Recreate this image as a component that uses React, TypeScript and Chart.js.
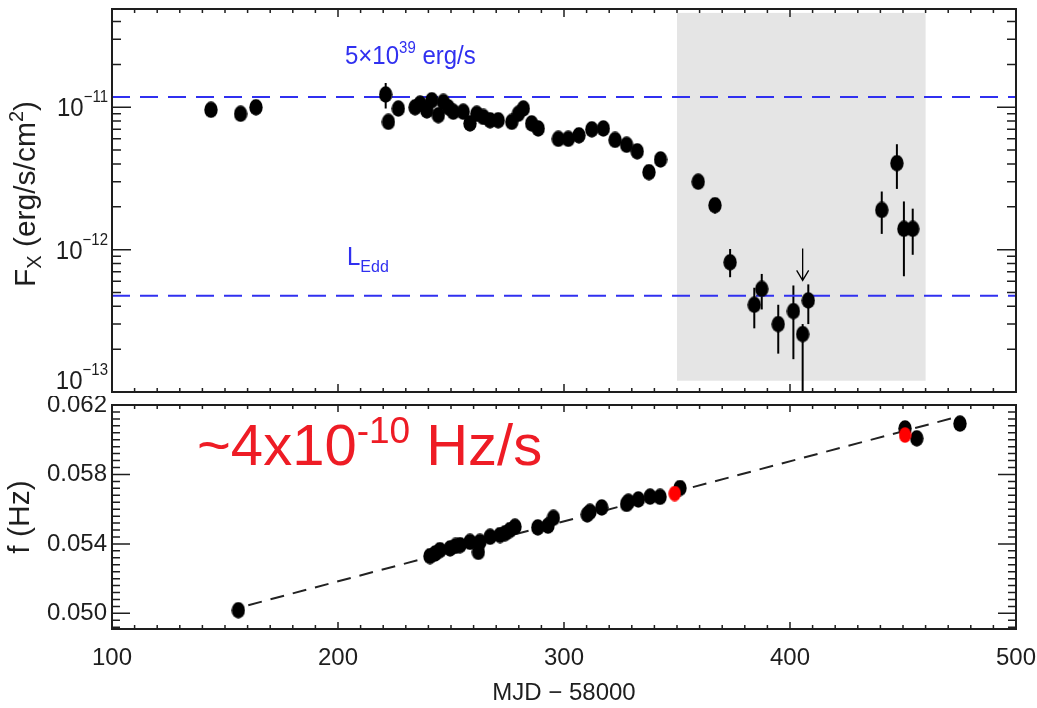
import React, { useEffect, useRef } from 'react';
import { Chart, registerables } from 'chart.js';

Chart.register(...registerables);

// ---------------- Top panel: X-ray flux (erg/s/cm^2) vs MJD-58000 ----------------
const fluxMJD = [
  143.8, 156.9, 163.7, 221.1, 222.3, 226.7, 234.1, 236.3, 239.3, 241.5, 244.4, 246.6,
  248.8, 251.0, 255.4, 258.4, 261.4, 264.3, 267.3, 270.9, 276.9, 279.8, 282.0, 285.7,
  288.6, 297.5, 301.9, 306.6, 312.3, 317.4, 322.6, 327.7, 332.4, 337.6, 342.7, 359.4,
  366.8, 373.5, 384.2, 387.5, 394.8, 401.5, 405.6, 408.1, 440.6, 447.3, 450.4, 454.3,
];
const fluxValues = [
  9.6e-12, 9.0e-12, 1.0e-11, 1.23e-11, 7.9e-12, 9.8e-12, 1.0e-11, 1.06e-11, 9.5e-12, 1.12e-11, 8.8e-12, 1.09e-11,
  1.0e-11, 9.3e-12, 9.3e-12, 7.7e-12, 9.0e-12, 8.55e-12, 8.1e-12, 8.1e-12, 7.9e-12, 9.0e-12, 9.8e-12, 7.7e-12,
  7.1e-12, 6.0e-12, 6.0e-12, 6.35e-12, 7.0e-12, 7.1e-12, 5.9e-12, 5.45e-12, 4.9e-12, 3.5e-12, 4.3e-12, 3.0e-12,
  2.05e-12, 8.15e-13, 4.1e-13, 5.3e-13, 3.0e-13, 3.7e-13, 2.55e-13, 4.4e-13, 1.9e-12, 4.05e-12, 1.4e-12, 1.4e-12,
];
// vertical error bars (only those visible outside the markers)
const errMJD = [221.1, 366.8, 373.5, 384.2, 387.5, 394.8, 401.5, 405.6, 408.1, 440.6, 447.3, 450.4, 454.3];
const errLow = [9.8e-12, 1.8e-12, 6.4e-13, 2.8e-13, 3.8e-13, 1.86e-13, 1.7e-13, 1e-14, 3.0e-13, 1.29e-12, 2.67e-12, 6.5e-13, 9.2e-13];
const errHigh = [1.48e-11, 2.2e-12, 1.01e-12, 5.4e-13, 6.75e-13, 4.1e-13, 5.6e-13, 3.0e-13, 5.7e-13, 2.56e-12, 5.5e-12, 2.18e-12, 1.94e-12];
// upper limit (arrow)
const upperLimitMJD = [405.6];
const upperLimitFlux = [1.02e-12];
// reference levels: 5x10^39 erg/s and L_Edd
const limitLevels = [1.18e-11, 4.74e-13];
// shaded interval
const shadedMJD = [350, 460];
const shadedFlux = [1.2e-13, 4.6e-11];
const fluxRange = [1e-13, 4.9e-11];
const fluxTickExponents = [-11, -12, -13];

// ---------------- Bottom panel: spin frequency (Hz) ----------------
const freqMJD = [
  155.9, 240.7, 243.0, 245.1, 249.6, 252.0, 254.0, 258.4, 262.1, 262.8, 267.3, 271.7,
  274.0, 276.1, 278.3, 288.4, 292.9, 295.3, 310.3, 311.5, 316.7, 327.7, 328.5, 332.9,
  338.1, 342.5, 351.3, 450.9, 456.1, 475.2,
];
const freqValues = [
  0.05018, 0.0533, 0.05345, 0.05364, 0.05374, 0.05388, 0.05393, 0.05412, 0.05354, 0.05412, 0.05441, 0.05451,
  0.05462, 0.0548, 0.05499, 0.05495, 0.05505, 0.0555, 0.0557, 0.05585, 0.0561, 0.0563, 0.05643, 0.05656,
  0.05672, 0.05671, 0.05722, 0.06065, 0.06008, 0.06093,
];
const freqRedMJD = [349.0, 450.9];
const freqRedValues = [0.0569, 0.06027];
const fitMJD = [160.3, 473.2];
const fitFreq = [0.05047, 0.06129];
const freqTicks = [0.05, 0.054, 0.058, 0.062];
const freqRange = [0.0491, 0.062];
const freqMinorStep = 0.0004;
const mjdTicks = [100, 200, 300, 400, 500];
const mjdRange = [100, 500];
const mjdMinorStep = 10;

// ---------------- styles ----------------
const FONT = "'Liberation Sans', Arial, Helvetica, sans-serif";
const INK = '#1e1e1e';
const BLUE = '#3030f0';
const RED = '#ee1c25';

type Seg = { t: string; size: number; dy?: number };

function drawRich(ctx: CanvasRenderingContext2D, segs: Seg[], x: number, y: number, color: string,
  align: 'left' | 'right' | 'center', rotate = 0, sy = 1) {
  ctx.save();
  ctx.translate(x, y);
  if (rotate) ctx.rotate(rotate);
  if (sy !== 1) ctx.scale(1, sy);
  ctx.fillStyle = color;
  ctx.textBaseline = 'alphabetic';
  ctx.textAlign = 'left';
  const widths = segs.map((s) => {
    ctx.font = `${s.size}px ${FONT}`;
    return ctx.measureText(s.t).width;
  });
  const total = widths.reduce((a, b) => a + b, 0);
  let cx = align === 'left' ? 0 : align === 'right' ? -total : -total / 2;
  segs.forEach((s, i) => {
    ctx.font = `${s.size}px ${FONT}`;
    ctx.fillText(s.t, cx, (s.dy || 0) / sy);
    cx += widths[i];
  });
  ctx.restore();
}

function makeEllipse(w: number, h: number, color: string) {
  const c = document.createElement('canvas');
  c.width = w;
  c.height = h;
  const g = c.getContext('2d')!;
  g.fillStyle = color;
  g.beginPath();
  g.ellipse(w / 2, h / 2, w / 2 - 0.3, h / 2 - 0.3, 0, 0, Math.PI * 2);
  g.fill();
  return c;
}

function drawFrame(chart: any, yTicks: { v: number; major: boolean }[], xLen: number[], yLen: number[]) {
  const { ctx, chartArea: a, scales } = chart;
  const x = scales.x;
  const y = scales.y;
  ctx.save();
  ctx.strokeStyle = INK;
  ctx.lineWidth = 1.5;
  ctx.beginPath();
  const n = Math.round((mjdRange[1] - mjdRange[0]) / mjdMinorStep);
  for (let i = 0; i <= n; i++) {
    const v = mjdRange[0] + i * mjdMinorStep;
    const major = mjdTicks.some((t) => Math.abs(t - v) < 1e-6);
    const px = x.getPixelForValue(v);
    const len = major ? xLen[0] : xLen[1];
    ctx.moveTo(px, a.bottom);
    ctx.lineTo(px, a.bottom - len);
    ctx.moveTo(px, a.top);
    ctx.lineTo(px, a.top + len);
  }
  for (const t of yTicks) {
    const py = y.getPixelForValue(t.v);
    const len = t.major ? yLen[0] : yLen[1];
    ctx.moveTo(a.left, py);
    ctx.lineTo(a.left + len, py);
    ctx.moveTo(a.right, py);
    ctx.lineTo(a.right - len, py);
  }
  ctx.stroke();
  ctx.lineWidth = 2;
  ctx.strokeRect(a.left, a.top, a.right - a.left, a.bottom - a.top);
  ctx.restore();
}

const topDecor = {
  id: 'topDecor',
  beforeDatasetsDraw(chart: any) {
    const { ctx, chartArea: a, scales } = chart;
    const x = scales.x;
    const y = scales.y;
    ctx.save();
    ctx.fillStyle = '#e5e5e5';
    const x0 = x.getPixelForValue(shadedMJD[0]);
    const x1 = x.getPixelForValue(shadedMJD[1]);
    const y0 = y.getPixelForValue(shadedFlux[1]);
    const y1 = y.getPixelForValue(shadedFlux[0]);
    ctx.fillRect(x0, y0, x1 - x0, y1 - y0);
    ctx.beginPath();
    ctx.rect(a.left, a.top, a.right - a.left, a.bottom - a.top);
    ctx.clip();
    ctx.strokeStyle = '#000';
    ctx.lineWidth = 2;
    errMJD.forEach((m, i) => {
      const px = x.getPixelForValue(m);
      ctx.beginPath();
      ctx.moveTo(px, y.getPixelForValue(errHigh[i]));
      ctx.lineTo(px, y.getPixelForValue(errLow[i]));
      ctx.stroke();
    });
    ctx.lineWidth = 1.3;
    upperLimitMJD.forEach((m, i) => {
      const px = x.getPixelForValue(m);
      const py = y.getPixelForValue(upperLimitFlux[i]);
      const tip = py + 32;
      ctx.beginPath();
      ctx.moveTo(px, py);
      ctx.lineTo(px, tip);
      ctx.moveTo(px - 6, tip - 10);
      ctx.lineTo(px, tip);
      ctx.lineTo(px + 6, tip - 10);
      ctx.stroke();
    });
    ctx.restore();
  },
  afterDatasetsDraw(chart: any) {
    const { ctx, chartArea: a, scales } = chart;
    const y = scales.y;
    const ticks: { v: number; major: boolean }[] = [];
    for (let e = -13; e <= -10; e++) {
      for (let k = 1; k <= 9; k++) {
        const v = k * Math.pow(10, e);
        if (v >= fluxRange[0] * 0.999 && v <= fluxRange[1]) ticks.push({ v, major: k === 1 });
      }
    }
    drawFrame(chart, ticks, [8, 4], [19, 9]);
    // y tick labels 10^-n
    fluxTickExponents.forEach((e) => {
      const py = y.getPixelForValue(Math.pow(10, e));
      const base = Math.min(py + 9, a.bottom - 3);
      drawRich(ctx, [{ t: '10', size: 24 }, { t: '\u2212' + Math.abs(e), size: 15, dy: -14 }], 108, base, INK, 'right', 0, 1.1);
    });
    // y title
    drawRich(ctx, [
      { t: 'F', size: 30 },
      { t: 'X', size: 20, dy: 6 },
      { t: ' (erg/s/cm', size: 30 },
      { t: '2', size: 20, dy: -12 },
      { t: ')', size: 30 },
    ], 35, 194, INK, 'center', -Math.PI / 2);
    // annotations
    drawRich(ctx, [{ t: '5\u00d710', size: 24 }, { t: '39', size: 15, dy: -11 }, { t: ' erg/s', size: 24 }], 345, 64, BLUE, 'left', 0, 1.08);
    drawRich(ctx, [{ t: 'L', size: 24 }, { t: 'Edd', size: 16, dy: 7 }], 347, 265, BLUE, 'left', 0, 1.08);
  },
};

const bottomDecor = {
  id: 'bottomDecor',
  afterDatasetsDraw(chart: any) {
    const ticks: { v: number; major: boolean }[] = [];
    const n = Math.round((freqRange[1] - 0.0492) / freqMinorStep);
    for (let i = 0; i <= n; i++) {
      const v = 0.0492 + i * freqMinorStep;
      ticks.push({ v, major: freqTicks.some((t) => Math.abs(t - v) < 1e-7) });
    }
    drawFrame(chart, ticks, [7, 4], [18, 8]);
    drawRich(chart.ctx, [{ t: '~4x10', size: 58 }, { t: '-10', size: 37, dy: -22 }, { t: ' Hz/s', size: 58 }], 197, 69, RED, 'left');
  },
};

function topConfig(): any {
  const dot = makeEllipse(14, 17, '#000');
  return {
    type: 'scatter',
    data: {
      datasets: [
        {
          data: fluxMJD.map((m, i) => ({ x: m, y: fluxValues[i] })),
          pointStyle: dot,
          pointRadius: 7,
          order: 0,
        },
        ...limitLevels.map((lv) => ({
          type: 'line',
          data: mjdRange.map((m) => ({ x: m, y: lv })),
          borderColor: BLUE,
          borderWidth: 2,
          borderDash: [18, 10],
          pointRadius: 0,
          fill: false,
          order: 1,
        })),
      ],
    },
    options: {
      responsive: false,
      animation: false,
      devicePixelRatio: 1,
      events: [],
      layout: { padding: { left: 112, right: 21, top: 9, bottom: 8 } },
      scales: {
        x: { type: 'linear', min: mjdRange[0], max: mjdRange[1], display: false },
        y: { type: 'logarithmic', min: fluxRange[0], max: fluxRange[1], display: false },
      },
      plugins: { legend: { display: false }, tooltip: { enabled: false } },
    },
    plugins: [topDecor],
  };
}

function bottomConfig(): any {
  const dot = makeEllipse(14, 17, '#000');
  const red = makeEllipse(13, 16, '#ff0000');
  return {
    type: 'scatter',
    data: {
      datasets: [
        {
          data: freqRedMJD.map((m, i) => ({ x: m, y: freqRedValues[i] })),
          pointStyle: red,
          pointRadius: 7,
          order: 0,
        },
        {
          data: freqMJD.map((m, i) => ({ x: m, y: freqValues[i] })),
          pointStyle: dot,
          pointRadius: 7,
          order: 1,
        },
        {
          type: 'line',
          data: fitMJD.map((m, i) => ({ x: m, y: fitFreq[i] })),
          borderColor: '#222',
          borderWidth: 2,
          borderDash: [14, 9],
          pointRadius: 0,
          fill: false,
          order: 2,
        },
      ],
    },
    options: {
      responsive: false,
      animation: false,
      devicePixelRatio: 1,
      events: [],
      layout: { padding: { left: 0, right: 21, top: 9, bottom: 0 } },
      scales: {
        x: {
          type: 'linear',
          min: mjdRange[0],
          max: mjdRange[1],
          grid: { display: false, drawTicks: false },
          border: { display: false },
          ticks: { font: { family: FONT, size: 24 }, color: INK, padding: 15, maxRotation: 0, autoSkip: false, callback: (v: any) => String(v) },
          title: { display: true, text: 'MJD \u2212 58000', font: { family: FONT, size: 24 }, color: INK, padding: { top: 4, bottom: 0 } },
          afterBuildTicks: (s: any) => { s.ticks = mjdTicks.map((v) => ({ value: v })); },
          afterFit: (s: any) => { s.height = 79; s.paddingLeft = 0; s.paddingRight = 0; },
        },
        y: {
          type: 'linear',
          min: freqRange[0],
          max: freqRange[1],
          grid: { display: false, drawTicks: false },
          border: { display: false },
          ticks: { font: { family: FONT, size: 24 }, color: INK, padding: 5, autoSkip: false, callback: (v: any) => Number(v).toFixed(3) },
          title: { display: true, text: 'f (Hz)', font: { family: FONT, size: 30 }, color: INK, padding: { top: 3, bottom: 0 } },
          afterBuildTicks: (s: any) => { s.ticks = freqTicks.map((v) => ({ value: v })); },
          afterFit: (s: any) => { s.width = 112; s.paddingTop = 0; s.paddingBottom = 0; },
        },
      },
      plugins: { legend: { display: false }, tooltip: { enabled: false } },
    },
    plugins: [bottomDecor],
  };
}

export default function App() {
  const topRef = useRef<HTMLCanvasElement>(null);
  const botRef = useRef<HTMLCanvasElement>(null);
  useEffect(() => {
    const top = new Chart(topRef.current!, topConfig());
    const bot = new Chart(botRef.current!, bottomConfig());
    return () => {
      top.destroy();
      bot.destroy();
    };
  }, []);
  return (
    <div style={{ position: 'fixed', left: 0, top: 0, width: 1037, height: 708, background: '#fff' }}>
      <canvas ref={topRef} width={1037} height={400} style={{ position: 'absolute', left: 0, top: 0, width: 1037, height: 400 }} />
      <canvas ref={botRef} width={1037} height={312} style={{ position: 'absolute', left: 0, top: 396, width: 1037, height: 312 }} />
    </div>
  );
}
